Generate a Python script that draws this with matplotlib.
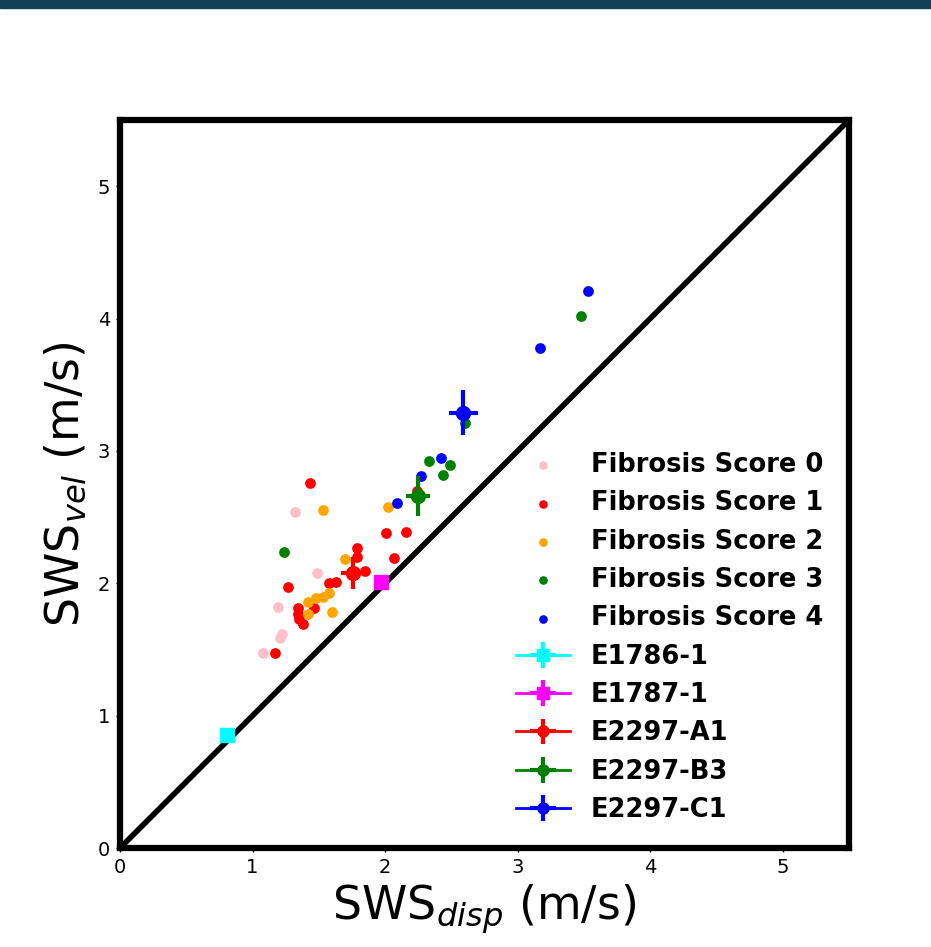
import matplotlib
matplotlib.use("Agg")
import matplotlib.pyplot as plt
from matplotlib.patches import Rectangle

# Fibrosis score groups (SWS_disp, SWS_vel)
f0_x = [1.08, 1.19, 1.22, 1.21, 1.32, 1.49, 1.74]
f0_y = [1.47, 1.82, 1.62, 1.59, 2.54, 2.08, 2.06]

f1_x = [1.43, 1.27, 1.17, 1.34, 1.34, 1.35, 1.38, 1.46, 1.58, 1.63, 1.79, 1.79, 1.85, 2.01, 2.16, 2.07, 2.24]
f1_y = [2.76, 1.97, 1.47, 1.81, 1.77, 1.73, 1.69, 1.81, 2.00, 2.01, 2.27, 2.20, 2.09, 2.38, 2.39, 2.19, 2.70]

f2_x = [1.53, 1.70, 2.02, 1.42, 1.48, 1.53, 1.58, 1.42, 1.60]
f2_y = [2.55, 2.18, 2.58, 1.86, 1.89, 1.90, 1.93, 1.77, 1.78]

f3_x = [1.24, 2.33, 2.49, 2.44, 2.60, 3.48]
f3_y = [2.24, 2.92, 2.89, 2.82, 3.21, 4.02]

f4_x = [2.42, 2.27, 2.09, 3.53, 3.17]
f4_y = [2.95, 2.81, 2.61, 4.21, 3.78]

score_labels = ["Fibrosis Score 0", "Fibrosis Score 1", "Fibrosis Score 2",
                "Fibrosis Score 3", "Fibrosis Score 4"]
score_colors = ["pink", "red", "orange", "green", "blue"]

# Sample measurements with error bars
sample_names = ["E1786-1", "E1787-1", "E2297-A1", "E2297-B3", "E2297-C1"]
sample_x = [0.81, 1.97, 1.76, 2.25, 2.59]
sample_y = [0.85, 2.01, 2.08, 2.66, 3.29]
sample_xerr = [0.03, 0.03, 0.09, 0.09, 0.11]
sample_yerr = [0.03, 0.03, 0.12, 0.15, 0.17]
sample_colors = ["cyan", "magenta", "red", "green", "blue"]
sample_markers = ["s", "s", "o", "o", "o"]

fig = plt.figure(figsize=(9.31, 9.47), dpi=100)
fig.patches.append(Rectangle((0, 1 - 8 / 947), 1, 8 / 947, transform=fig.transFigure,
                             color="#143f58", zorder=0))
ax = fig.add_axes([120 / 931, 1 - 848 / 947, 729 / 931, 728 / 947])

groups = [(f0_x, f0_y), (f1_x, f1_y), (f2_x, f2_y), (f3_x, f3_y), (f4_x, f4_y)]
for (gx, gy), lab, col in zip(groups, score_labels, score_colors):
    ax.scatter(gx, gy, s=60, color=col, label=lab, zorder=3, linewidths=0)

ax.plot([0, 5.5], [0, 5.5], color="black", lw=4, zorder=2)

for n, x, y, xe, ye, c, m in zip(sample_names, sample_x, sample_y, sample_xerr,
                                  sample_yerr, sample_colors, sample_markers):
    ax.errorbar(x, y, xerr=xe, yerr=ye, fmt=m + "-", color=c, ecolor=c, elinewidth=3,
                lw=2, markersize=10, capsize=0, label=n, zorder=4)

ax.set_xlim(0, 5.5)
ax.set_ylim(0, 5.5)
ax.set_xticks([0, 1, 2, 3, 4, 5])
ax.set_yticks([0, 1, 2, 3, 4, 5])
ax.tick_params(labelsize=14, length=3, width=1, pad=4)
for sp in ax.spines.values():
    sp.set_linewidth(4.5)

ax.set_xlabel(r"SWS$_{disp}$ (m/s)", fontsize=33, labelpad=4)
ax.set_ylabel(r"SWS$_{vel}$ (m/s)", fontsize=33, labelpad=7)

leg = ax.legend(loc="lower right", frameon=False, prop={"weight": "bold", "size": 18.5},
                markerscale=0.8, handletextpad=0.8, handlelength=2.1, labelspacing=0.48,
                bbox_to_anchor=(0.989, 0.0096), borderaxespad=0.3)

fig.savefig("out.png", dpi=100)
